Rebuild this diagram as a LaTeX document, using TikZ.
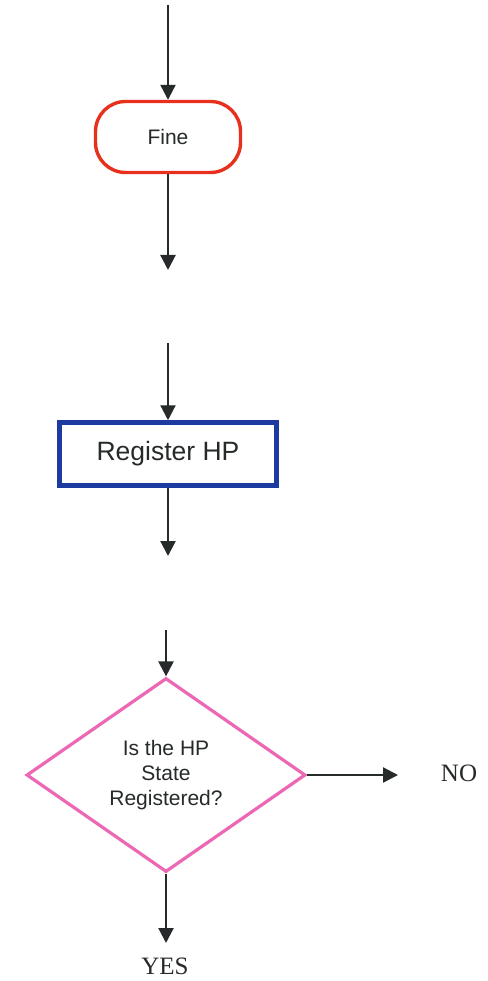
\documentclass[tikz,border=0pt]{standalone}
\usepackage{fontspec}
\setmainfont{Liberation Sans}
\newfontfamily\serifnf{Liberation Serif}
\usetikzlibrary{arrows.meta,shapes.geometric}

\definecolor{termred}{RGB}{232,48,30}
\definecolor{boxblue}{RGB}{28,58,160}
\definecolor{decpink}{RGB}{236,104,180}
\definecolor{inkgrey}{RGB}{38,42,42}

\tikzset{
  flow/.style={draw=inkgrey, line width=2.2pt,
    -{Triangle[length=15pt,width=15pt]}},
  terminal/.style={draw=termred, line width=3.4pt, rounded corners=30pt,
    minimum width=145pt, minimum height=71pt, inner sep=0pt,
    font=\fontsize{21}{24}\selectfont, text=inkgrey},
  process/.style={draw=boxblue, line width=4.5pt,
    minimum width=217pt, minimum height=63pt, inner sep=0pt,
    font=\fontsize{26.5}{30}\selectfont, text=inkgrey},
  decision/.style={diamond, draw=decpink, line width=3.2pt, aspect=1.44,
    minimum width=279pt, minimum height=194pt, inner sep=0pt,
    align=center, font=\fontsize{21}{25}\selectfont, text=inkgrey},
  answer/.style={font=\serifnf\fontsize{25}{28}\selectfont, text=inkgrey,
    inner sep=0pt}
}

\begin{document}
\begin{tikzpicture}[x=1pt,y=-1pt]
  \useasboundingbox[fill=white] (0,0) rectangle (487,981);

  % first stage: terminal
  \coordinate (in1) at (168,5);
  \node[terminal] (fine) at (168,137) {Fine};
  \coordinate (out1) at (168,270);
  \draw[flow] (in1) -- (fine.north);
  \draw[flow] (fine.south) -- (out1);

  % second stage: process box
  \coordinate (in2) at (168,343);
  \node[process] (reg) at (168,454) {Register HP};
  \coordinate (out2) at (168,556);
  \draw[flow] (in2) -- (reg.north);
  \draw[flow] (reg.south) -- (out2);

  % third stage: decision
  \coordinate (in3) at (166,630);
  \node[decision] (dec) at (166,775) {Is the HP\\State\\Registered?};
  \coordinate (noend) at (398,775);
  \coordinate (yesend) at (166,943);
  \node[answer] (no) at (459,773) {NO};
  \node[answer] (yes) at (165,966) {YES};
  \draw[flow] (in3) -- (dec.north);
  \draw[flow] (dec.east) -- (noend);
  \draw[flow] (dec.south) -- (yesend);
\end{tikzpicture}
\end{document}
